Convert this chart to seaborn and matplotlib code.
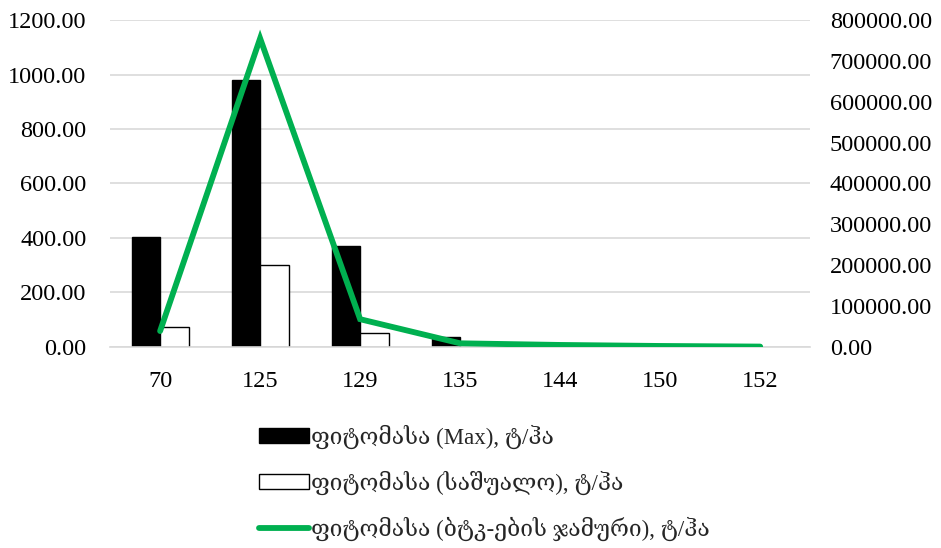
import numpy as np
import pandas as pd
import matplotlib
matplotlib.use('Agg')
import matplotlib.pyplot as plt
import seaborn as sns

# data
categories = ['70', '125', '129', '135', '144', '150', '152']
biomass_max = [402, 980, 371, 38, np.nan, np.nan, np.nan]
biomass_mean = [75, 301, 50, np.nan, np.nan, np.nan, np.nan]
biomass_total = [39000, 755000, 68000, 9000, 5000, 2500, 1000]

label_max = 'ფიტომასა (Max), ტ/ჰა'
label_mean = 'ფიტომასა (საშუალო), ტ/ჰა'
label_total = 'ფიტომასა (ბტკ-ების ჯამური), ტ/ჰა'

sns.set_theme(style='white')
plt.rcParams['font.family'] = ['Liberation Serif', 'DejaVu Serif', 'DejaVu Sans']
plt.rcParams['font.size'] = 17.5

df = pd.DataFrame({
    'category': categories * 2,
    'value': biomass_max + biomass_mean,
    'series': [label_max] * len(categories) + [label_mean] * len(categories),
})

fig = plt.figure(figsize=(9.41, 5.48), dpi=100)
ax = fig.add_axes([0.117, 0.3668, 0.744, 0.5967])

sns.barplot(data=df, x='category', y='value', hue='series', order=categories,
            palette={label_max: 'black', label_mean: 'white'},
            edgecolor='black', linewidth=1.0, width=0.57, gap=0,
            errorbar=None, ax=ax)

ax.set_ylim(0, 1200)
ax.set_yticks(np.arange(0, 1201, 200))
ax.set_yticklabels([f'{v:.2f}' for v in np.arange(0, 1201, 200)])
ax.set_xlim(-0.5, len(categories) - 0.5)
ax.yaxis.grid(True, color='#d9d9d9', linewidth=1.2)
ax.set_axisbelow(True)
for s in ['top', 'left', 'right']:
    ax.spines[s].set_visible(False)
ax.spines['bottom'].set_color('#d9d9d9')
ax.spines['bottom'].set_linewidth(1.2)
ax.spines['bottom'].set_zorder(5)
ax.tick_params(axis='y', length=0, pad=17, labelsize=17.5, colors='black')
ax.tick_params(axis='x', length=0, pad=17, labelsize=17.5, colors='black')
ax.set_xlabel('')
ax.set_ylabel('')

bar_handles, bar_labels = ax.get_legend_handles_labels()
ax.get_legend().remove()

ax2 = ax.twinx()
sns.lineplot(x=categories, y=biomass_total, color='#00B050', linewidth=4.2,
             sort=False, ax=ax2, label=label_total)
for ln in ax2.get_lines():
    ln.set_solid_capstyle('round')
    ln.set_solid_joinstyle('miter')
ax2.set_ylim(0, 800000)
ax2.set_yticks(np.arange(0, 800001, 100000))
ax2.set_yticklabels([f'{v:.2f}' for v in np.arange(0, 800001, 100000)])
ax2.set_xlim(-0.5, len(categories) - 0.5)
ax2.grid(False)
for s in ax2.spines.values():
    s.set_visible(False)
ax2.tick_params(axis='y', length=0, pad=14, labelsize=17.5, colors='black')
ax2.set_ylabel('')
line_handles, line_labels = ax2.get_legend_handles_labels()
ax2.get_legend().remove()

fig.legend(bar_handles + line_handles, bar_labels + line_labels,
           loc='center left', bbox_to_anchor=(0.265, 0.119),
           frameon=False, fontsize=16.5, handlelength=2.2, handleheight=0.65,
           handletextpad=0.1, labelspacing=0.95, borderaxespad=0)

plt.savefig('out.png', dpi=100)
